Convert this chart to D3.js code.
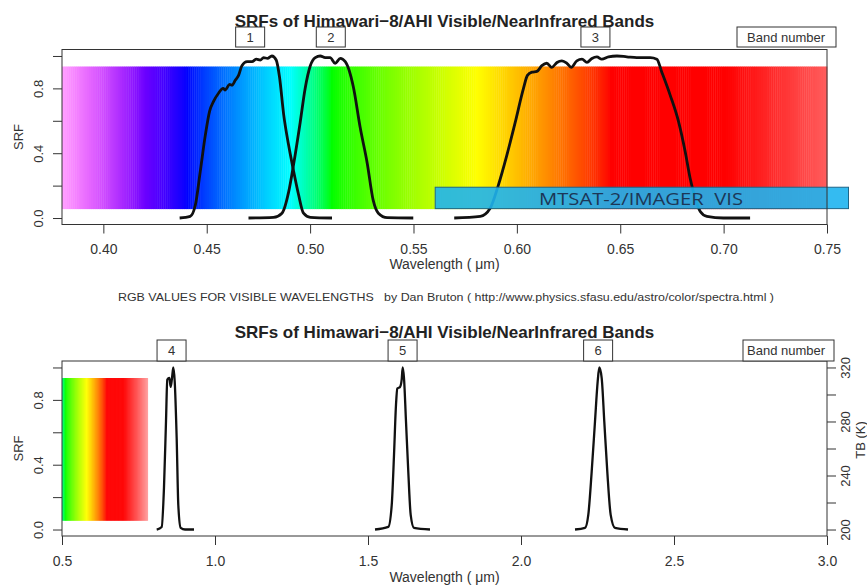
<!DOCTYPE html>
<html>
<head>
<meta charset="utf-8">
<script src="https://cdn.jsdelivr.net/npm/d3@7"></script>
<style>
	body { margin: 0; background: #fff; }
	svg text { font-family: "Liberation Sans", Arial, Helvetica, sans-serif; fill: #333; }
</style>
</head>
<body>
<svg id="chart" width="867" height="585"></svg>
<script>
'use strict';

// [wavelength (um), SRF]
const band1 = [[0.4369,0],[0.4420,0.01],[0.4445,0.08],[0.4469,0.29],[0.4493,0.51],[0.4514,0.66],
	[0.4533,0.72],[0.4557,0.77],[0.4579,0.80],[0.4590,0.79],[0.4610,0.825],[0.4622,0.82],[0.4638,0.85],
	[0.4654,0.88],[0.4670,0.94],[0.4695,0.965],[0.4719,0.965],[0.4740,0.98],[0.4759,0.975],[0.4775,0.99],
	[0.4794,0.985],[0.4815,1.0],[0.4836,0.975],[0.4852,0.87],[0.4872,0.64],[0.4896,0.45],[0.4920,0.29],
	[0.4944,0.145],[0.4968,0.03],[0.5001,0.004],[0.5106,0]];
const band2 = [[0.4702,0],[0.4823,0.004],[0.4864,0.03],[0.4896,0.16],[0.4920,0.33],[0.4952,0.59],
	[0.4976,0.80],[0.5001,0.94],[0.5025,0.99],[0.5049,1.0],[0.5073,0.99],[0.5097,0.99],[0.5121,0.955],
	[0.5146,0.985],[0.5170,0.965],[0.5209,0.81],[0.5242,0.56],[0.5276,0.34],[0.5305,0.11],[0.5330,0.03],
	[0.5373,0.002],[0.5499,0]];
const band3 = [[0.5697,0],[0.5823,0.01],[0.5871,0.06],[0.5911,0.205],[0.5952,0.39],[0.5992,0.59],
	[0.6032,0.80],[0.6051,0.88],[0.6073,0.90],[0.6097,0.905],[0.6121,0.94],[0.6145,0.955],[0.6169,0.93],
	[0.6194,0.96],[0.6218,0.97],[0.6242,0.955],[0.6263,0.93],[0.6290,0.97],[0.6315,0.98],[0.6339,0.96],
	[0.6363,0.985],[0.6387,0.995],[0.6411,0.98],[0.6443,0.995],[0.6484,1.0],[0.6532,0.995],[0.6580,0.99],
	[0.6645,0.99],[0.6677,0.98],[0.6701,0.90],[0.6741,0.76],[0.6782,0.595],[0.6814,0.41],[0.6838,0.245],
	[0.6862,0.125],[0.6887,0.04],[0.6919,0.01],[0.6999,0],[0.7128,0]];
const band4 = [[0.8095,0],[0.8258,0.016],[0.8333,0.26],[0.8399,0.67],[0.8441,0.925],[0.8507,0.935],
	[0.8552,0.88],[0.8595,0.935],[0.8637,1.0],[0.8683,0.915],[0.8748,0.56],[0.8801,0.15],[0.8879,0.01],
	[0.9020,0],[0.9314,0]];
const band5 = [[1.5229,0],[1.5663,0.016],[1.5775,0.15],[1.5850,0.46],[1.5915,0.77],[1.5958,0.87],
	[1.6046,0.88],[1.6101,0.925],[1.6134,1.0],[1.6176,0.935],[1.6242,0.665],[1.6317,0.355],[1.6395,0.09],
	[1.6503,0.01],[1.7026,0]];
const band6 = [[2.1765,0],[2.2092,0.01],[2.2199,0.09],[2.2310,0.357],[2.2418,0.666],[2.2506,0.914],
	[2.2559,1.0],[2.2637,0.935],[2.2722,0.666],[2.2820,0.357],[2.2931,0.09],[2.3072,0.01],[2.3497,0]];

const topBandLabels = ['1', '2', '3'];
const topBandCenters = [0.471, 0.510, 0.638];
const bottomBandLabels = ['4', '5', '6'];
const bottomBandCenters = [0.858, 1.613, 2.252];

const topXTicks = [0.40, 0.45, 0.50, 0.55, 0.60, 0.65, 0.70, 0.75];
const bottomXTicks = [0.5, 1.0, 1.5, 2.0, 2.5, 3.0];
const srfTicks = [0, 0.2, 0.4, 0.6, 0.8, 1.0];
const srfLabelled = [0, 0.4, 0.8];
const tbTicks = [200, 220, 240, 260, 280, 300, 320];
const tbLabelled = [200, 240, 280, 320];

const title = 'SRFs of Himawari\u22128/AHI Visible/NearInfrared Bands';
const credit = 'RGB VALUES FOR VISIBLE WAVELENGTHS\u00a0\u00a0 by Dan Bruton ( http://www.physics.sfasu.edu/astro/color/spectra.html )';

// Dan Bruton's wavelength -> RGB, faded toward white at the spectrum ends
const spectrumColor = nm => {
	let r = 0, g = 0, b = 0;
	if (nm < 440) { r = (440 - nm) / 60; b = 1; }
	else if (nm < 490) { g = (nm - 440) / 50; b = 1; }
	else if (nm < 510) { g = 1; b = (510 - nm) / 20; }
	else if (nm < 580) { r = (nm - 510) / 70; g = 1; }
	else if (nm < 645) { r = 1; g = (645 - nm) / 65; }
	else { r = 1; }
	let f = nm < 420 ? 0.3 + 0.7 * (nm - 380) / 40 : nm > 700 ? 0.3 + 0.7 * (780 - nm) / 80 : 1,
		a = Math.pow(f, 0.8),
		c = v => Math.round(255 - a * (255 - 255 * Math.pow(v, 0.8)));
	return d3.rgb(c(r), c(g), c(b)).toString();
};

const svg = d3.select('#chart');
const left = 62, right = 827;

const drawPanel = p => {
	let g = svg.append('g'),
		x = d3.scaleLinear().domain(p.xDomain).range([left, right]),
		y = d3.scaleLinear().domain([-0.04, 1.04]).range([p.bottom, p.top]),
		line = d3.line().x(d => x(d[0])).y(d => y(d[1])).curve(d3.curveMonotoneX);

	// spectrum strip
	g.append('g').selectAll('rect')
		.data(d3.range(p.spectrum[0], p.spectrum[1]))
		.enter().append('rect')
			.attr('x', nm => x(nm / 1000))
			.attr('width', nm => x((nm + 1) / 1000) - x(nm / 1000) + 0.4)
			.attr('y', y(0.935))
			.attr('height', y(0.055) - y(0.935))
			.attr('fill', nm => spectrumColor(nm));

	g.append('g').selectAll('path')
		.data(p.bands)
		.enter().append('path')
			.attr('d', line)
			.attr('fill', 'none')
			.attr('stroke', '#111')
			.attr('stroke-width', p.lineWidth)
			.attr('stroke-linejoin', 'round');

	if (p.overlay) p.overlay(g, x, y);

	g.append('rect')
		.attr('x', left).attr('y', p.top)
		.attr('width', right - left).attr('height', p.bottom - p.top)
		.attr('fill', 'none').attr('stroke', '#333');

	g.append('g')
		.attr('transform', `translate(0,${p.bottom})`)
		.call(d3.axisBottom(x).tickValues(p.xTicks).tickSize(9).tickFormat(d3.format(p.xFormat)))
		.call(a => a.select('.domain').remove())
		.call(a => a.selectAll('line').attr('stroke', '#333'))
		.call(a => a.selectAll('text').attr('y', 29.5).attr('dy', null)
			.style('font-size', '14px').style('fill', '#333'));

	g.append('g')
		.attr('transform', `translate(${left},0)`)
		.call(d3.axisLeft(y).tickValues(srfTicks).tickSize(9)
			.tickFormat(d => srfLabelled.includes(d) ? d3.format('.1f')(d) : ''))
		.call(a => a.select('.domain').remove())
		.call(a => a.selectAll('line').attr('stroke', '#333'))
		.call(a => a.selectAll('text').attr('x', 0).attr('y', -19).attr('dy', null)
			.attr('transform', 'rotate(-90)').attr('text-anchor', 'middle')
			.style('font-size', '13px').style('fill', '#333'));

	if (p.tbAxis) {
		let tb = d3.scaleLinear().domain([200 - 0.04 * 120, 320 + 0.04 * 120]).range([p.bottom, p.top]);
		g.append('g')
			.attr('transform', `translate(${right},0)`)
			.call(d3.axisRight(tb).tickValues(tbTicks).tickSize(9)
				.tickFormat(d => tbLabelled.includes(d) ? d : ''))
			.call(a => a.select('.domain').remove())
			.call(a => a.selectAll('line').attr('stroke', '#333'))
			.call(a => a.selectAll('text').attr('x', 0).attr('y', 23).attr('dy', null)
				.attr('transform', 'rotate(-90)').attr('text-anchor', 'middle')
				.style('font-size', '13px').style('fill', '#333'));
		g.append('text')
			.attr('transform', `translate(865,${p.tbLabelY}) rotate(-90)`)
			.attr('text-anchor', 'middle').style('font-size', '13px')
			.text('TB (K)');
	}

	// band number boxes
	let lab = g.append('g').selectAll('g')
		.data(p.bandCenters)
		.enter().append('g')
			.attr('transform', d => `translate(${x(d)},0)`);
	lab.append('rect')
		.attr('x', -14.5).attr('width', 29)
		.attr('y', p.labelBox[0]).attr('height', p.labelBox[1] - p.labelBox[0])
		.attr('fill', '#fff').attr('stroke', '#333');
	lab.append('text')
		.attr('y', p.labelBox[2]).attr('text-anchor', 'middle')
		.style('font-size', '13px')
		.text((d, i) => p.bandLabels[i]);

	g.append('rect')
		.attr('x', p.legend[0]).attr('width', p.legend[1] - p.legend[0])
		.attr('y', p.labelBox[0]).attr('height', p.labelBox[1] - p.labelBox[0])
		.attr('fill', '#fff').attr('stroke', '#333');
	g.append('text')
		.attr('x', 747).attr('y', p.labelBox[2])
		.style('font-size', '13px')
		.text('Band number');

	g.append('text')
		.attr('x', (left + right) / 2).attr('y', p.titleY)
		.attr('text-anchor', 'middle')
		.style('font-size', '17px').style('font-weight', 'bold').style('fill', '#222')
		.text(title);

	g.append('text')
		.attr('x', (left + right) / 2).attr('y', p.xLabelY)
		.attr('text-anchor', 'middle').style('font-size', '14px')
		.text('Wavelength ( \u03bcm)');

	g.append('text')
		.attr('transform', `translate(23,${(p.top + p.bottom) / 2}) rotate(-90)`)
		.attr('text-anchor', 'middle').style('font-size', '13px')
		.text('SRF');
};

drawPanel({
	xDomain: [0.38, 0.75], top: 49.5, bottom: 224.5,
	spectrum: [380, 750], bands: [band1, band2, band3], lineWidth: 2.8,
	xTicks: topXTicks, xFormat: '.2f',
	bandCenters: topBandCenters, bandLabels: topBandLabels,
	labelBox: [27, 47, 42], legend: [737, 836],
	titleY: 26.5, xLabelY: 269,
	overlay: (g, x, y) => {
		g.append('rect')
			.attr('x', x(0.5605)).attr('width', x(0.7604) - x(0.5605))
			.attr('y', y(0.19)).attr('height', y(0.058) - y(0.19))
			.attr('fill', '#1eb4f0').attr('fill-opacity', 0.9)
			.attr('stroke', '#1e6688').attr('stroke-width', 1);
		g.append('text')
			.attr('x', 641).attr('y', 205)
			.attr('text-anchor', 'middle')
			.attr('textLength', 204).attr('lengthAdjust', 'spacingAndGlyphs')
			.style('font-family', '"Open Sans", sans-serif').style('font-size', '17px')
			.style('fill', '#1c3757')
			.text('MTSAT-2/IMAGER\u00a0\u00a0VIS');
	}
});

drawPanel({
	xDomain: [0.5, 3.0], top: 361, bottom: 536,
	spectrum: [500, 780], bands: [band4, band5, band6], lineWidth: 2.3,
	xTicks: bottomXTicks, xFormat: '.1f',
	bandCenters: bottomBandCenters, bandLabels: bottomBandLabels,
	labelBox: [340, 361, 355], legend: [743, 834],
	titleY: 338, xLabelY: 582,
	tbAxis: true, tbLabelY: 440
});

svg.append('text')
	.attr('x', 118).attr('y', 301)
	.attr('textLength', 656).attr('lengthAdjust', 'spacingAndGlyphs')
	.style('font-size', '11.5px')
	.text(credit);
</script>
</body>
</html>
